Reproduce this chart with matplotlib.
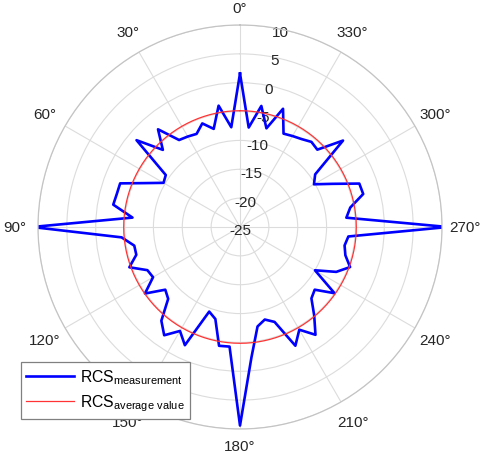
import numpy as np
import matplotlib
matplotlib.use('Agg')
import matplotlib.pyplot as plt
from matplotlib.transforms import ScaledTranslation

plt.rcParams['font.family'] = ['Liberation Sans', 'DejaVu Sans']
plt.rcParams['mathtext.fontset'] = 'custom'
plt.rcParams['mathtext.rm'] = 'Liberation Sans'

angles_deg = [
    0, 5, 10, 15, 20, 25, 30, 35, 40, 45, 50, 55,
    60, 65, 70, 75, 80, 85, 90, 95, 100, 105, 110, 115,
    120, 125, 130, 135, 140, 145, 150, 155, 160, 165, 170, 175,
    180, 185, 190, 195, 200, 205, 210, 215, 220, 225, 230, 235,
    240, 245, 250, 255, 260, 265, 270, 275, 280, 285, 290, 295,
    300, 305, 310, 315, 320, 325, 330, 335, 340, 345, 350, 355,
]
rcs_db = [
    1.6, -7.65, -3.65, -7.4, -5.9, -7.2, -6.9, -6.6, -2.9, -6.1, -1.6, -9.3,
    -9.7, -7.0, -2.9, -2.9, -2.7, -6.3, 11.0, -4.4, -6.4, -6.4, -4.6, -7.3,
    -7.6, -4.9, -8.1, -7.4, -3.8, -2.1, -4.2, -2.4, -9.4, -8.5, -4.1, -4.2,
    9.4, -2.3, -7.5, -8.4, -7.5, -2.3, -4.45, -2.2, -5.0, -7.5, -8.1, -5.0,
    -10.0, -6.6, -4.7, -6.1, -6.6, -6.15, 11.0, -6.5, -5.6, -2.9, -3.0, -7.3,
    -10.2, -9.1, -1.7, -6.05, -5.75, -6.4, -6.8, -7.15, -3.2, -7.3, -3.7, -7.7,
]
rcs_avg = -4.85

r_ticks = [-25, -20, -15, -10, -5, 0, 5, 10]
theta_ticks = list(range(0, 360, 30))

theta = np.deg2rad(np.append(angles_deg, angles_deg[0]))
rcs = np.append(rcs_db, rcs_db[0])
theta_circ = np.linspace(0, 2 * np.pi, 361)

fig = plt.figure(figsize=(4.86, 4.6), dpi=100)
ax = fig.add_axes([38 / 486, 30 / 460, 404 / 486, 404 / 460], projection='polar')
ax.set_theta_zero_location('N')
ax.set_theta_direction(1)

ax.plot(theta, rcs, color='#0000ff', lw=1.9, label=r'RCS$_{\mathrm{measurement}}$')
ax.plot(theta_circ, np.full_like(theta_circ, rcs_avg), color='#ff3333', lw=0.9,
        label=r'RCS$_{\mathrm{average\ value}}$')

ax.set_rlim(-25, 10)
ax.set_rticks(r_ticks)
ax.set_yticklabels([str(t) for t in r_ticks], fontsize=11, color='#262626')
ax.set_rlabel_position(-11.5)
shift = ScaledTranslation(0, -3 / 100, fig.dpi_scale_trans)
for tick in ax.yaxis.get_major_ticks():
    tick.label1.set_ha('center')
    tick.label1.set_va('center')
    tick.label1.set_transform(tick.label1.get_transform() + shift)

# angle labels placed like MATLAB: fixed distance from the centre
ax.set_thetagrids(theta_ticks, [''] * len(theta_ticks))
for t in theta_ticks:
    a = np.deg2rad(t)
    rr = 0.543 if t % 180 == 0 else 0.557
    ax.text(0.5 - rr * np.sin(a), 0.5 + rr * np.cos(a), f'{t}°', transform=ax.transAxes,
            ha='center', va='center', fontsize=11, color='#262626')

ax.grid(True, color='#dcdcdc', lw=0.8)
ax.spines['polar'].set_color('#c4c4c4')
ax.spines['polar'].set_linewidth(0.9)

leg = ax.legend(loc='upper left', bbox_to_anchor=(21 / 486, 1 - 363 / 460),
                bbox_transform=fig.transFigure, fontsize=11.3, fancybox=False,
                framealpha=1, edgecolor='#808080', borderaxespad=0,
                handlelength=3.0, labelspacing=0.42, borderpad=0.35, handletextpad=0.4)
leg.get_frame().set_linewidth(0.9)
leg.set_zorder(10)

fig.savefig('out.png', dpi=100)
